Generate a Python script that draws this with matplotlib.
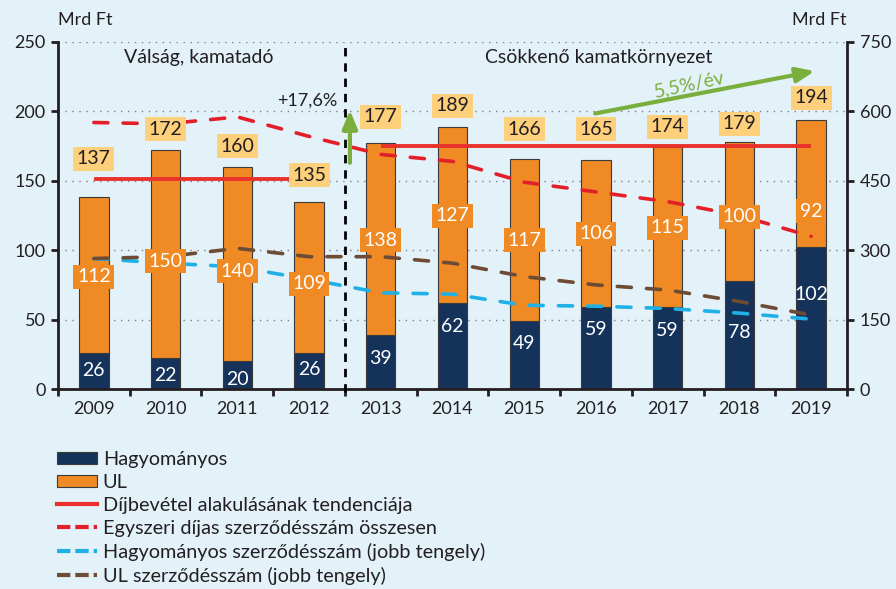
import matplotlib
matplotlib.use("Agg")
import matplotlib.pyplot as plt
from matplotlib.patches import Patch
from matplotlib.lines import Line2D
import numpy as np

plt.rcParams['font.family'] = ['Lato', 'DejaVu Sans']

years = ['2009', '2010', '2011', '2012', '2013', '2014', '2015', '2016', '2017', '2018', '2019']
hagyomanyos = [26, 22, 20, 26, 39, 62, 49, 59, 59, 78, 102]
ul = [112, 150, 140, 109, 138, 127, 117, 106, 115, 100, 92]
totals = [137, 172, 160, 135, 177, 189, 166, 165, 174, 179, 194]
trend_values = [151, 151, 151, 151, 175, 175, 175, 175, 175, 175, 175]
egyszeri = [192, 191, 196, 182, 169, 164, 149, 142, 135, 125, 110]
hagy_szerz = [282, 272, 264, 237, 208, 205, 181, 179, 174, 164, 151]
ul_szerz = [282, 286, 304, 286, 286, 272, 243, 225, 214, 189, 160]

# label positions (left-axis units)
total_label_y = [166, 187, 175, 154, 196, 204, 187, 187, 189, 191, 210]
ul_label_y = [81, 92, 85, 76, 107, 125, 107, 112, 116, 124, 128]
hagy_label_y = [13, 10, 7, 14, 22, 45, 33, 43, 42, 41, 68]

BG = '#E3F1F9'
NAVY = '#15335A'
ORANGE = '#EF8A24'
LBOX = '#FED07C'
RED = '#E9322B'
RED_D = '#E3202A'
BLUE = '#1FB1E6'
BROWN = '#6E4B34'
GREEN = '#7BAF3D'
TXT = '#231F20'

fig = plt.figure(figsize=(8.96, 5.89), dpi=100, facecolor=BG)
ax = fig.add_axes([58/896, 1-389/589, (847-58)/896, (389-42)/589])
ax.set_facecolor(BG)
ax2 = ax.twinx()
ax2.patch.set_visible(False)

x = np.arange(len(years))
w = 0.41
ax.bar(x, hagyomanyos, w, color=NAVY, edgecolor='#3a3a3a', linewidth=0.8, zorder=2)
ax.bar(x, ul, w, bottom=hagyomanyos, color=ORANGE, edgecolor='#3a3a3a', linewidth=0.8, zorder=2)

DLW = 2.6
DASH = (3.9, 4.2)
# trend lines
ax.plot(x[:4], trend_values[:4], color=RED, lw=2.8, zorder=3, solid_capstyle='butt')
ax.plot(x[4:], trend_values[4:], color=RED, lw=2.8, zorder=3, solid_capstyle='butt')
ax.plot(x, egyszeri, color=RED_D, lw=DLW, dashes=DASH, dash_capstyle='round', zorder=3)

ax2.plot(x, hagy_szerz, color=BLUE, lw=DLW, dashes=DASH, dash_capstyle='round', zorder=3)
ax2.plot(x, ul_szerz, color=BROWN, lw=DLW, dashes=DASH, dash_capstyle='round', zorder=3)

ax.set_xlim(-0.5, len(years) - 0.5)
ax.set_ylim(0, 250)
ax2.set_ylim(0, 750)
ax.set_yticks([0, 50, 100, 150, 200, 250])
ax2.set_yticks([0, 150, 300, 450, 600, 750])
ax.yaxis.grid(True, color='#7f7f7f', linestyle=(0, (1, 4)), lw=1)
ax.set_axisbelow(True)

ax.set_xticks(x)
ax.set_xticklabels(years)
ax.set_xticks(np.arange(-0.5, len(years), 1), minor=True)
ax.tick_params(axis='x', which='major', length=0, labelsize=13, labelcolor=TXT, pad=9)
ax.tick_params(axis='x', which='minor', length=5, width=2, direction='out', color=TXT)
ax.tick_params(axis='y', length=5, width=2, labelsize=13, labelcolor=TXT, pad=4, color=TXT)
ax2.tick_params(axis='y', length=5, width=2, labelsize=13, labelcolor=TXT, pad=4, color=TXT)

for a in (ax, ax2):
    a.spines['top'].set_visible(False)
    for s in ('left', 'right', 'bottom'):
        a.spines[s].set_linewidth(2)
        a.spines[s].set_color(TXT)
ax.spines['right'].set_visible(False)
ax2.spines['left'].set_visible(False)
ax2.spines['bottom'].set_visible(False)

T = ax.transData
# vertical separator
ax2.plot([3.5, 3.5], [-2, 250], transform=T, color='black', lw=2, dashes=(3, 2.5), clip_on=False, zorder=4)

# labels
for i in range(len(years)):
    ax2.text(x[i], total_label_y[i], str(totals[i]), transform=T, ha='center', va='center',
             fontsize=14, color=TXT, zorder=6,
             bbox=dict(boxstyle='square,pad=0.18', fc=LBOX, ec='none'))
    ax2.text(x[i], ul_label_y[i], str(ul[i]), transform=T, ha='center', va='center',
             fontsize=14, color='white', zorder=6,
             bbox=dict(boxstyle='square,pad=0.18', fc=ORANGE, ec='none'))
    ax2.text(x[i], hagy_label_y[i], str(hagyomanyos[i]), transform=T, ha='center', va='center',
             fontsize=14, color='white', zorder=6)

ax2.text(1.46, 239, 'Válság, kamatadó', transform=T, ha='center', va='center', fontsize=14, color=TXT)
ax2.text(7.04, 239, 'Csökkenő kamatkörnyezet', transform=T, ha='center', va='center', fontsize=14, color=TXT)
ax2.text(3.39, 208, '+17,6%', transform=T, ha='right', va='center', fontsize=13, color=TXT)
ax2.text(8.31, 219, '5,5%/év', transform=T, ha='center', va='center', fontsize=14, color=GREEN, rotation=12)

ax2.annotate('', xy=(3.57, 201), xytext=(3.57, 163), xycoords=T, textcoords=T,
             arrowprops=dict(arrowstyle='-|>,head_width=0.45,head_length=1.1', color=GREEN, lw=3,
                             shrinkA=0, shrinkB=0), zorder=5)
ax2.annotate('', xy=(10.05, 229), xytext=(6.99, 198.5), xycoords=T, textcoords=T,
             arrowprops=dict(arrowstyle='-|>,head_width=0.45,head_length=1.1', color=GREEN, lw=3,
                             shrinkA=0, shrinkB=0), zorder=5)

fig.text(58/896, 1-20/589, 'Mrd Ft', ha='left', va='center', fontsize=13, color=TXT)
fig.text(846/896, 1-20/589, 'Mrd Ft', ha='right', va='center', fontsize=13, color=TXT)

LD = (3.2, 1.2)
handles = [
    Patch(facecolor=NAVY, edgecolor='#3a3a3a', linewidth=0.8),
    Patch(facecolor=ORANGE, edgecolor='#3a3a3a', linewidth=0.8),
    Line2D([], [], color=RED, lw=3),
    Line2D([], [], color=RED_D, lw=3, dashes=LD),
    Line2D([], [], color=BLUE, lw=3, dashes=LD),
    Line2D([], [], color=BROWN, lw=3, dashes=LD),
]
labels = ['Hagyományos', 'UL', 'Díjbevétel alakulásának tendenciája',
          'Egyszeri díjas szerződésszám összesen', 'Hagyományos szerződésszám (jobb tengely)',
          'UL szerződésszám (jobb tengely)']
fig.legend(handles, labels, loc='upper left', bbox_to_anchor=(57/896, 1-451/589), frameon=False,
           fontsize=14.3, handlelength=2.0, handleheight=0.6, handletextpad=0.3, labelspacing=0.3,
           borderpad=0, borderaxespad=0, labelcolor=TXT)

fig.savefig('out.png', dpi=100, facecolor=BG)
